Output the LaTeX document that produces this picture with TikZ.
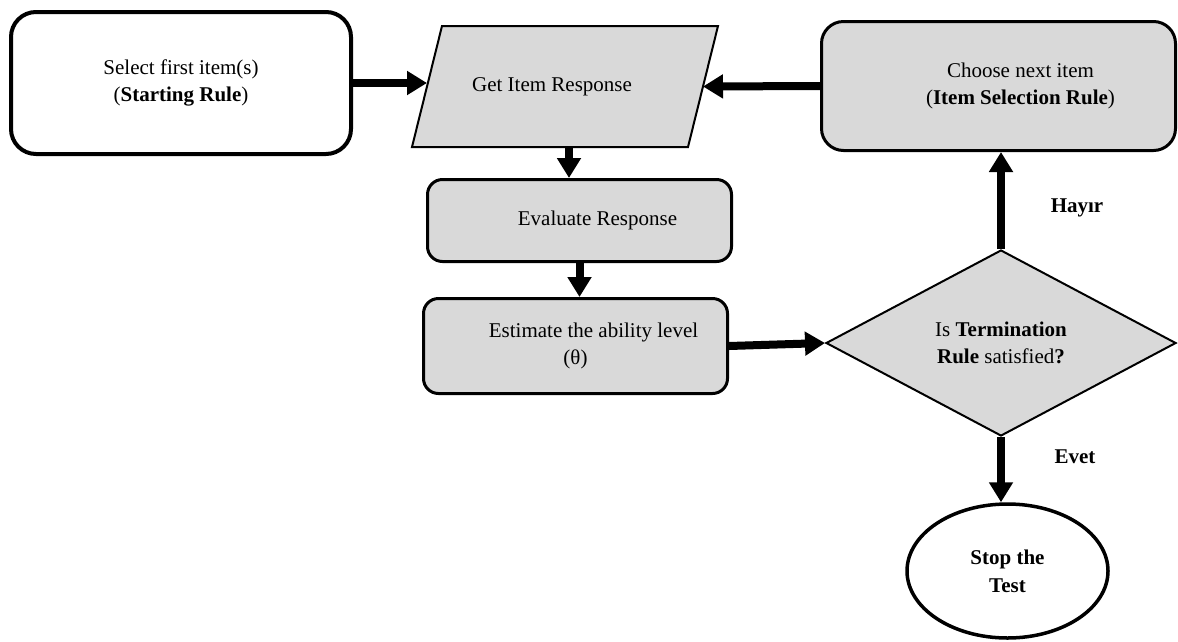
\documentclass[tikz,border=0pt]{standalone}
\usepackage{fontspec}
\setmainfont{Liberation Serif}
\usetikzlibrary{shapes.geometric,arrows.meta,calc}
\definecolor{boxgray}{HTML}{D9D9D9}
\begin{document}
\begin{tikzpicture}[x=1pt,y=-1pt,
  font=\fontsize{21}{27}\selectfont,
  startbox/.style={draw, line width=4pt, rounded corners=25pt, fill=white,
    minimum width=340pt, minimum height=142pt, align=center, inner sep=0pt},
  graybox/.style={draw, line width=3pt, fill=boxgray, align=center, inner sep=0pt},
  paraline/.style={draw, line width=2pt, fill=boxgray, line join=miter},
  paratext/.style={minimum width=276pt, minimum height=123pt, inner sep=0pt, outer sep=0pt, align=center},
  decbox/.style={draw, line width=2pt, fill=boxgray, diamond,
    minimum width=350pt, minimum height=186pt, inner sep=0pt, align=center},
  endbox/.style={draw, line width=3.5pt, fill=white, ellipse,
    minimum width=201pt, minimum height=134pt, inner sep=0pt, align=center, font=\fontsize{21}{28}\selectfont\bfseries},
  arr/.style={line width=8pt, -{Triangle[length=20pt,width=23pt]}},
  lbl/.style={font=\fontsize{21}{27}\selectfont\bfseries}
]
\useasboundingbox (0,0) rectangle (1178,641);

% parallelogram (Get Item Response)
\path[paraline] (412,147) -- (688,147) -- (718,26) -- (442,26) -- cycle;
\node[paratext] (para) at (565,86.5) {Get Item Response\hspace*{26pt}};

\node[startbox] (start) at (181,83) {Select first item(s)\\(\textbf{Starting Rule})};
\node[graybox, rounded corners=22pt, minimum width=354pt, minimum height=129pt] (choose) at (998.5,86)
  {\hspace*{44pt}Choose next item\\\hspace*{44pt}(\textbf{Item Selection Rule})};
\node[graybox, rounded corners=15pt, minimum width=304pt, minimum height=82pt] (eval) at (579.5,220.5)
  {\hspace*{36pt}Evaluate Response};
\node[graybox, rounded corners=15pt, minimum width=304pt, minimum height=95pt] (est) at (575.5,346)
  {\hspace*{36pt}Estimate the ability level\\(θ)};
\node[decbox] (dec) at (1001,343) {Is \textbf{Termination}\\\textbf{Rule} satisfied\textbf{?}};
\node[endbox] (stop) at (1007.5,571) {Stop the\\Test};

\node[lbl] (hayir) at (1077,208) {Hayır};
\node[lbl] (evet) at (1075,457) {Evet};

\draw[arr] (start.east) -- (start.east -| para.west);
\draw[arr] (choose.west) -- (para.east);
\draw[arr] ($(para.south)+(4,0)$) -- ($(para.south |- eval.north)+(4,0)$);
\draw[arr] (eval.south) -- (eval.south |- est.north);
\draw[arr] (est.east) -- (dec.west);
\draw[arr] (dec.north) -- (dec.north |- choose.south);
\draw[arr] (dec.south) -- (dec.south |- stop.north);
\end{tikzpicture}
\end{document}
